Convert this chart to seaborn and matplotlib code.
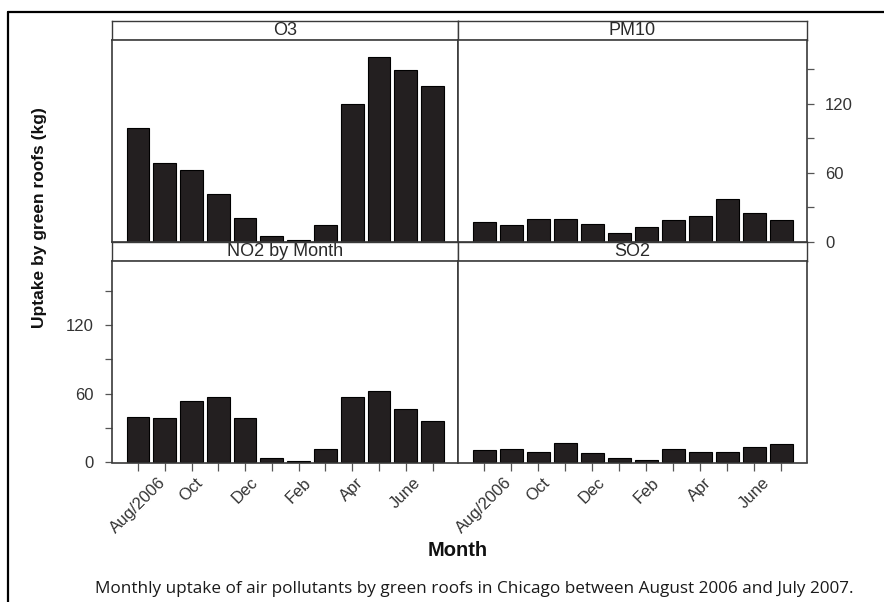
import matplotlib
matplotlib.use("Agg")
import matplotlib.pyplot as plt
import seaborn as sns
import pandas as pd
from matplotlib.lines import Line2D

# ---- data ----
months = ["Aug/2006", "Sep", "Oct", "Nov", "Dec", "Jan", "Feb", "Mar", "Apr", "May", "June", "July"]
tick_labels = ["Aug/2006", "", "Oct", "", "Dec", "", "Feb", "", "Apr", "", "June", ""]
o3 = [98.6, 68.2, 62.0, 41.7, 20.3, 4.7, 1.5, 14.5, 120.0, 160.3, 149.6, 135.7]
pm10 = [17.1, 14.5, 19.7, 20.0, 15.4, 7.3, 12.5, 18.6, 22.6, 37.4, 25.2, 18.9]
no2 = [39.5, 39.0, 53.2, 56.8, 39.0, 3.9, 0.9, 11.1, 57.0, 62.0, 46.2, 35.7]
so2 = [10.8, 11.1, 9.1, 16.4, 7.6, 3.8, 1.8, 11.7, 8.8, 9.1, 13.2, 15.5]
panel_titles = ["O3", "PM10", "NO2 by Month", "SO2"]
y_ticks = [0, 30, 60, 90, 120, 150]
y_ticklabels = ["0", "", "60", "", "120", ""]

sns.set_theme(style="white")
plt.rcParams["font.family"] = ["Liberation Sans", "DejaVu Sans"]

W, H = 884, 602
fig = plt.figure(figsize=(W / 100, H / 100), dpi=100)


def rect(x0, y0, x1, y1):
    return [x0 / W, 1 - y1 / H, (x1 - x0) / W, (y1 - y0) / H]


xl = [112, 458, 807]
strips = [(21, 39.5), (242, 261)]
panels = [(39.5, 242), (261, 462.5)]

series = [o3, pm10, no2, so2]
edge_col = "#3a3a3a"
bar_col = "#231f20"

for i, vals in enumerate(series):
    r, c = divmod(i, 2)
    x0, x1 = xl[c], xl[c + 1]
    # strip
    sax = fig.add_axes(rect(x0, strips[r][0], x1, strips[r][1]))
    sax.set_xticks([]); sax.set_yticks([])
    for sp in sax.spines.values():
        sp.set_color(edge_col); sp.set_linewidth(1.0)
    sax.text(0.5, 0.5, panel_titles[i], ha="center", va="center", fontsize=13,
             color="#2a2a2a", transform=sax.transAxes)
    # panel
    ax = fig.add_axes(rect(x0, panels[r][0], x1, panels[r][1]))
    df = pd.DataFrame({"month": pd.Categorical(months, categories=months, ordered=True), "value": vals})
    sns.barplot(data=df, x="month", y="value", ax=ax, color=bar_col, edgecolor="black",
                linewidth=0.8, width=0.85, saturation=1)
    ax.set_xlim(-0.97, 11.95)
    ax.set_ylim(-0.3, 175.8)
    ax.set_xlabel(""); ax.set_ylabel("")
    for sp in ax.spines.values():
        sp.set_color(edge_col); sp.set_linewidth(1.2)
    ax.tick_params(axis="both", direction="out", length=5, width=0.9, color="#555555",
                   labelsize=12, labelcolor="#333333", pad=4)
    # y ticks
    if (r, c) == (0, 1):
        ax.yaxis.tick_right()
        ax.set_yticks(y_ticks)
        ax.set_yticklabels(y_ticklabels)
        ax.tick_params(axis="y", left=False, right=True, pad=8)
    elif (r, c) == (1, 0):
        ax.set_yticks(y_ticks)
        ax.set_yticklabels(y_ticklabels)
        ax.tick_params(axis="y", left=True, right=False, pad=8)
    else:
        ax.set_yticks([])
    # x ticks
    if r == 1:
        ax.set_xticks(range(len(months)))
        ax.set_xticklabels(tick_labels, rotation=45, ha="center", va="top")
        ax.tick_params(axis="x", bottom=True, length=6, pad=3)
    else:
        ax.set_xticks([])

fig.text(40 / W, 1 - 218 / H, "Uptake by green roofs (kg)", rotation=90, ha="center", va="center",
         fontsize=12.5, fontweight="bold", color="#111111")
fig.text(458 / W, 1 - 551 / H, "Month", ha="center", va="center", fontsize=14.5,
         fontweight="bold", color="#111111")
fig.text(474 / W, 1 - 589 / H,
         "Monthly uptake of air pollutants by green roofs in Chicago between August 2006 and July 2007.",
         ha="center", va="center", fontsize=12.3, color="#1a1a1a", family=["Open Sans", "DejaVu Sans"])

# outer frame (top and left edges)
fig.add_artist(Line2D([8 / W, 1], [1 - 12 / H, 1 - 12 / H], transform=fig.transFigure, color="black", lw=1.6))
fig.add_artist(Line2D([8 / W, 8 / W], [1 - 12 / H, 0], transform=fig.transFigure, color="black", lw=1.6))

fig.savefig("out.png", dpi=100, facecolor="white")
